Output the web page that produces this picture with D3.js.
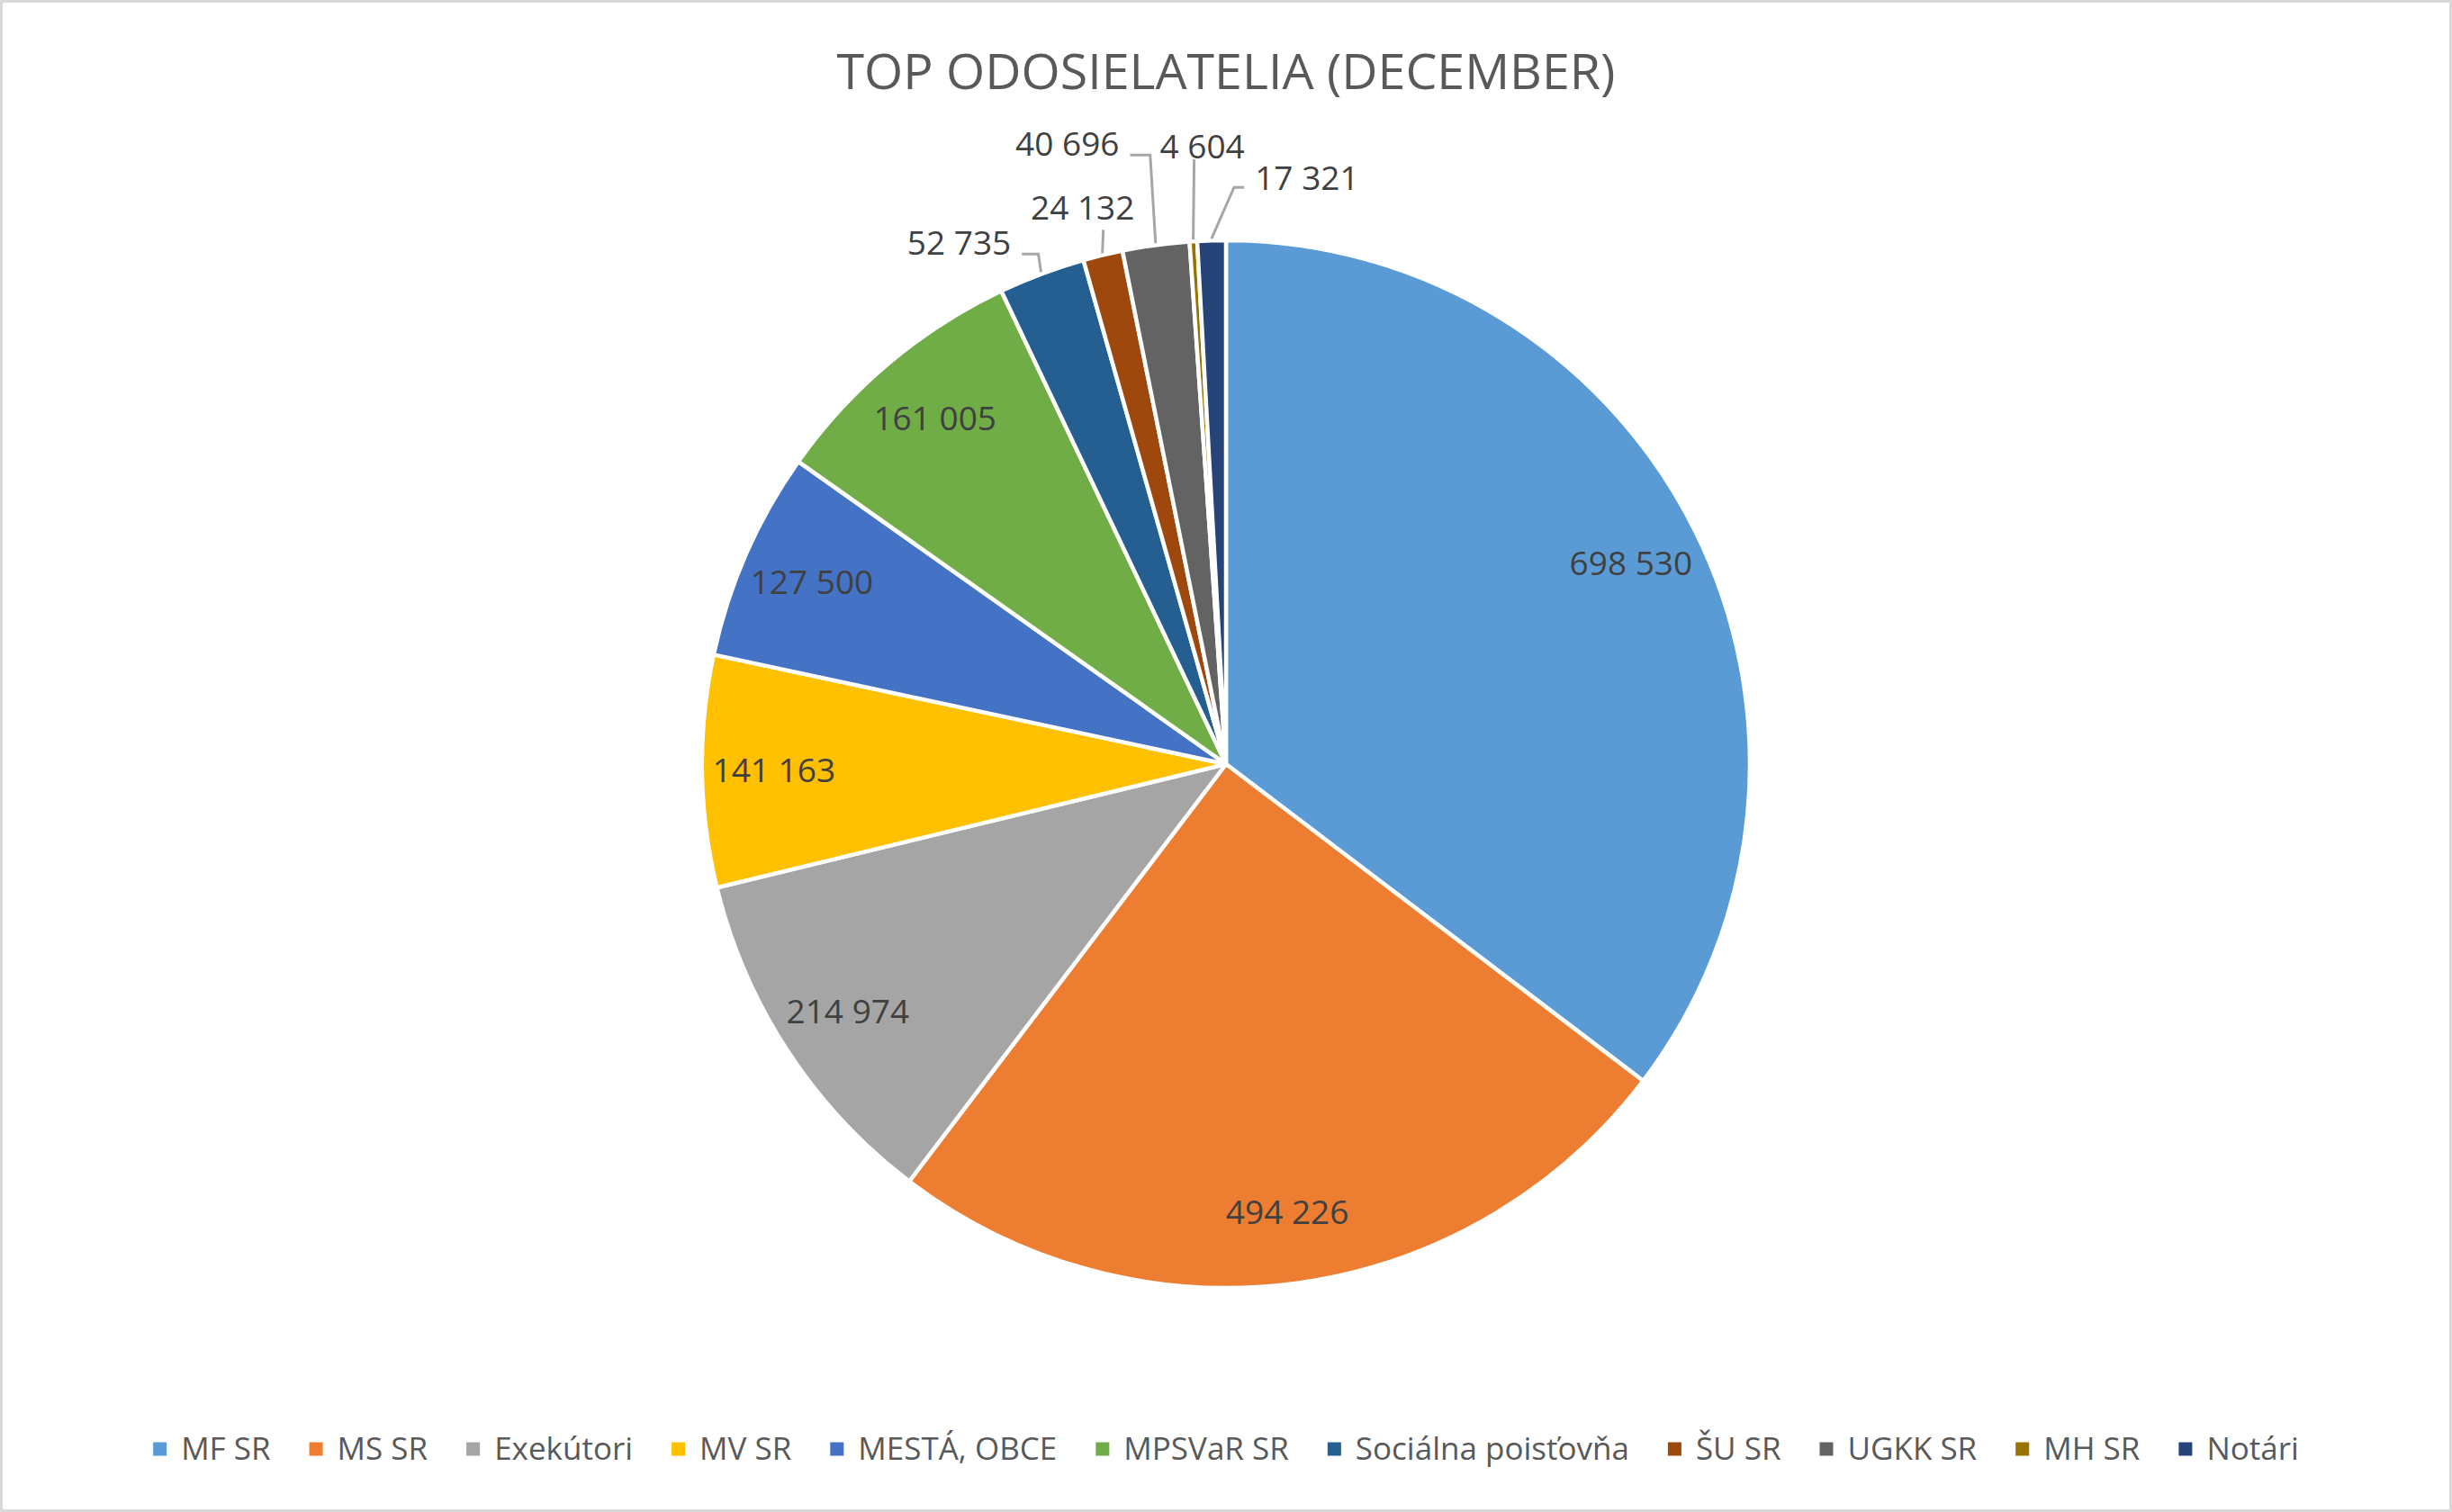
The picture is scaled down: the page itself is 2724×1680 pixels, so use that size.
<!DOCTYPE html>
<html>
<head>
<meta charset="utf-8">
<script src="https://cdn.jsdelivr.net/npm/d3@7"></script>
<style>
  body { margin: 0; background: #fff; }
  text { font-family: "Open Sans", "Noto Sans", sans-serif; }
</style>
</head>
<body>
<div id="chart"></div>
<script>
var title = "TOP ODOSIELATELIA (DECEMBER)";
var categories = ["MF SR", "MS SR", "Exekútori", "MV SR", "MESTÁ, OBCE", "MPSVaR SR",
                  "Sociálna poisťovňa", "ŠU SR", "UGKK SR", "MH SR", "Notári"];
var values = [698530, 494226, 214974, 141163, 127500, 161005, 52735, 24132, 40696, 4604, 17321];
var colors = ["#5B9BD5", "#ED7D31", "#A5A5A5", "#FFC000", "#4472C4", "#70AD47",
              "#255E91", "#9E480E", "#636363", "#997300", "#264478"];

// small slices get their labels outside, with a leader line
// [label dx, label dy, elbow dx, elbow dy] relative to the slice edge point
var outsideLabels = {
  6: [-91, -32, -3, -20],
  7: [-22, -50, 1, -26],
  8: [-98, -110, -6, -98],
  9: [10, -103, 1, -89],
  10: [106, -67, 25, -57]
};

var width = 2724, height = 1680;
var cx = 1362, cy = 849, radius = 582;
var labelSize = 37, legendSize = 35, titleSize = 55.5;

var fmt = d3.formatLocale({decimal: ",", thousands: " ", grouping: [3], currency: ["", ""]}).format(",d");

var svg = d3.select("#chart").append("svg")
    .attr("width", width)
    .attr("height", height);

svg.append("rect")
    .attr("x", 1.5).attr("y", 1.5)
    .attr("width", width - 3).attr("height", height - 3)
    .attr("fill", "#fff")
    .attr("stroke", "#D9D9D9")
    .attr("stroke-width", 3);

svg.append("text")
    .attr("x", cx).attr("y", 99)
    .attr("text-anchor", "middle")
    .style("font-size", titleSize + "px")
    .style("fill", "#595959")
    .text(title);

var pie = d3.pie().sort(null).value(function(d) { return d; });
var arcs = pie(values);
var arc = d3.arc().innerRadius(0).outerRadius(radius);

var g = svg.append("g").attr("transform", "translate(" + cx + "," + cy + ")");

g.selectAll("path.slice")
    .data(arcs)
    .enter().append("path")
    .attr("class", "slice")
    .attr("d", arc)
    .attr("fill", function(d, i) { return colors[i]; })
    .attr("stroke", "#fff")
    .attr("stroke-width", 4.5)
    .attr("stroke-linejoin", "round");

function polar(a, r) { return [Math.sin(a) * r, -Math.cos(a) * r]; }

arcs.forEach(function(d, i) {
  var mid = (d.startAngle + d.endAngle) / 2;
  var lay = outsideLabels[i];
  if (!lay) {
    var p = polar(mid, radius * 0.863);
    g.append("text")
        .attr("x", p[0]).attr("y", p[1])
        .attr("text-anchor", "middle")
        .attr("dy", "0.35em")
        .style("font-size", labelSize + "px")
        .style("fill", "#404040")
        .text(fmt(values[i]));
    return;
  }
  var e = polar(mid, radius + 2);
  var lx = e[0] + lay[0], ly = e[1] + lay[1];
  var t = g.append("text")
      .attr("x", lx).attr("y", ly)
      .attr("text-anchor", "middle")
      .attr("dy", "0.35em")
      .style("font-size", labelSize + "px")
      .style("fill", "#404040")
      .text(fmt(values[i]));
  var w = t.node().getComputedTextLength();
  var ex = e[0] + lay[2], ey = e[1] + lay[3];
  var pts = [e, [ex, ey]];
  if (ex > lx + w / 2) pts.push([lx + w / 2 + 12, ey]);
  else if (ex < lx - w / 2) pts.push([lx - w / 2 - 12, ey]);
  g.insert("path", "text")
      .attr("d", d3.line()(pts))
      .attr("fill", "none")
      .attr("stroke", "#A6A6A6")
      .attr("stroke-width", 3);
});

// legend
var legend = svg.append("g");
var x = 0, legendY = 1610, box = 15, boxGap = 16, itemGap = 43;
categories.forEach(function(c, i) {
  var item = legend.append("g").attr("transform", "translate(" + x + ",0)");
  item.append("rect")
      .attr("x", 0).attr("y", legendY - box / 2)
      .attr("width", box).attr("height", box)
      .attr("fill", colors[i]);
  var t = item.append("text")
      .attr("x", box + boxGap).attr("y", legendY)
      .attr("dy", "0.35em")
      .style("font-size", legendSize + "px")
      .style("fill", "#595959")
      .text(c);
  x += box + boxGap + t.node().getComputedTextLength() + itemGap;
});
var total = x - itemGap;
legend.attr("transform", "translate(" + (cx - total / 2) + ",0)");
</script>
</body>
</html>
